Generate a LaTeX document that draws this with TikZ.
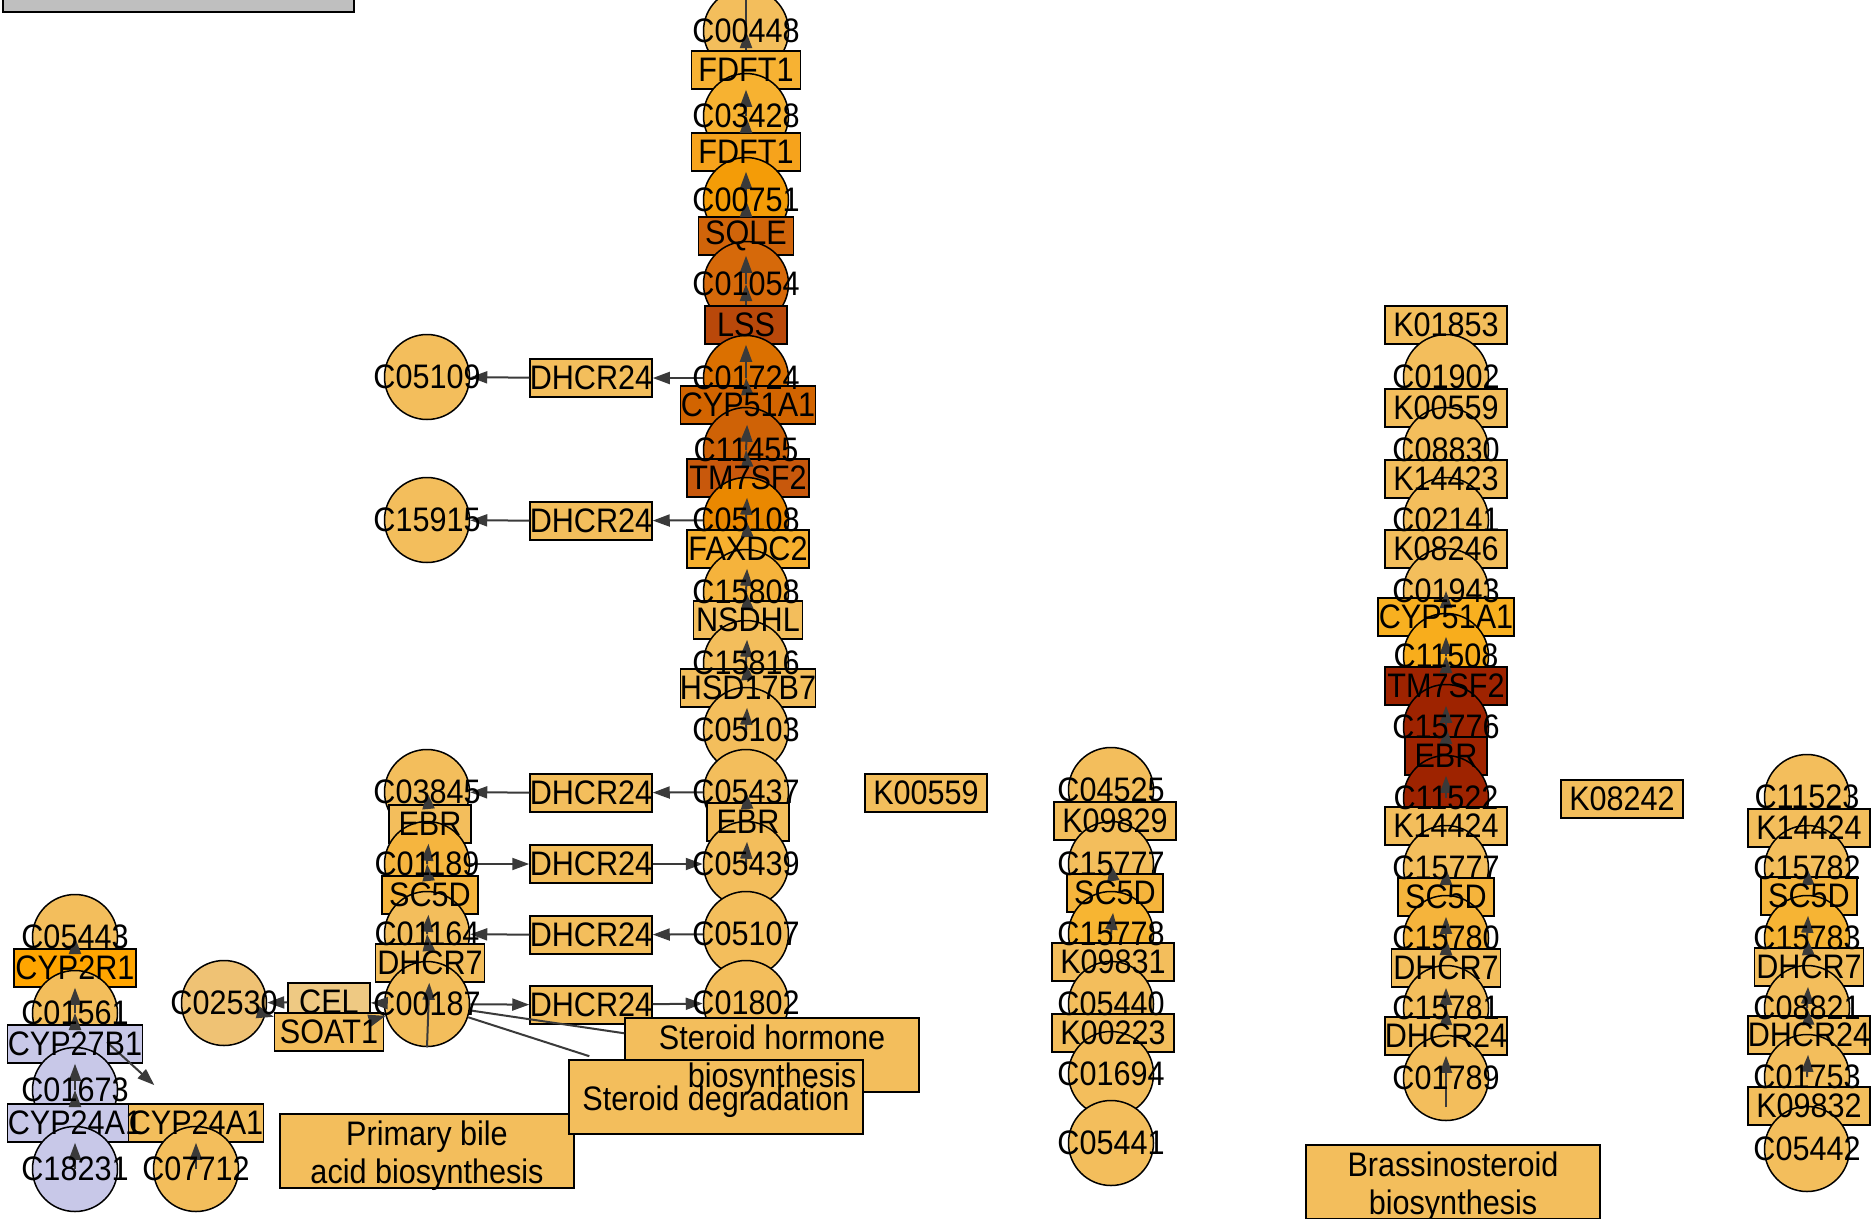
\documentclass[tikz,border=0pt]{standalone}
\usepackage{fontspec}
\newfontfamily\lblfont{Liberation Sans}[FakeStretch=0.9]
\usetikzlibrary{arrows.meta,calc}
\pgfdeclarelayer{edges}
\pgfdeclarelayer{lab}
\pgfsetlayers{main,edges,lab}
\definecolor{cLO}{HTML}{F3BE5C}
\definecolor{cFa}{HTML}{F7B233}
\definecolor{cC03428}{HTML}{F7B231}
\definecolor{cFb}{HTML}{F6A31C}
\definecolor{cC00751}{HTML}{F49C07}
\definecolor{cSQLE}{HTML}{D0640A}
\definecolor{cC01054}{HTML}{D6690A}
\definecolor{cLSS}{HTML}{B9480A}
\definecolor{cC01724}{HTML}{DB7000}
\definecolor{cCYP51}{HTML}{D26400}
\definecolor{cC11455}{HTML}{CF6206}
\definecolor{cTM7}{HTML}{C8580C}
\definecolor{cC05108}{HTML}{EA8800}
\definecolor{cFAX}{HTML}{F7B02E}
\definecolor{cC15808}{HTML}{F5B33C}
\definecolor{cC01189}{HTML}{F5B53F}
\definecolor{cSC5D}{HTML}{F5B43C}
\definecolor{cCYP2R1}{HTML}{FFA500}
\definecolor{cLav}{HTML}{C8C8E8}
\definecolor{cC02530}{HTML}{EFC274}
\definecolor{cCEL}{HTML}{EEC983}
\definecolor{cC15778}{HTML}{F7B532}
\definecolor{cCYP51r}{HTML}{F8B020}
\definecolor{cC11508}{HTML}{F8AD1C}
\definecolor{cDR}{HTML}{9E2300}
\definecolor{cC15780}{HTML}{F5B43C}
\definecolor{cC15783}{HTML}{F6B434}
\definecolor{cEdge}{HTML}{3A3A3A}
\definecolor{cLegend}{HTML}{BFBFBF}
\tikzset{
  cpd/.style={circle, draw=black, line width=1.5pt, minimum size=85pt, inner sep=0pt},
  gene/.style={rectangle, draw=black, line width=1.5pt, minimum height=38pt, inner sep=0pt},
  pw/.style={rectangle, draw=black, line width=1.5pt, minimum width=294pt, minimum height=74pt, fill=cLO},
  lbl/.style={font={\lblfont\fontsize{34}{38}\selectfont}, inner sep=0pt, text=black},
  arr/.style={draw=cEdge, line width=2pt, -{Triangle[length=17pt,width=12pt]}},
  ln/.style={draw=cEdge, line width=2pt},
}
\newcommand\Cpd[5]{\node[cpd,fill=#4] (#1) at (#2,#3) {};\begin{pgfonlayer}{lab}\node[lbl] (#1-t) at (#1) {#5};\end{pgfonlayer}}
\newcommand\Gene[6]{\node[gene,minimum width=#4pt,fill=#5] (#1) at (#2,#3) {};\begin{pgfonlayer}{lab}\node[lbl] (#1-t) at (#1) {#6};\end{pgfonlayer}}
\newcommand\Pw[4]{\node[pw] (#1) at (#2,#3) {};\begin{pgfonlayer}{lab}\node[lbl,align=center] (#1-t) at ([yshift=-5pt]#1.center) {#4};\end{pgfonlayer}}
\begin{document}
\begin{tikzpicture}[x=1pt,y=-1pt]
\fill[white] (0,0) rectangle (1871,1218);
\useasboundingbox (0,0) rectangle (1871,1218);
\node[draw=black, line width=1.6pt, fill=cLegend, minimum width=351pt, minimum height=60pt, inner sep=0pt, anchor=south west] (legend) at (2,12.5) {};
% main column
\Cpd{C00448}{746}{31}{cLO}{C00448}
\Gene{gFDFT1a}{746}{70}{109}{cFa}{FDFT1}
\Cpd{C03428}{746}{116}{cC03428}{C03428}
\Gene{gFDFT1b}{746}{152}{109}{cFb}{FDFT1}
\Cpd{C00751}{746}{200}{cC00751}{C00751}
\Gene{gSQLE}{746}{236}{95}{cSQLE}{SQLE}
\Cpd{C01054}{746}{284}{cC01054}{C01054}
\Gene{gLSS}{746}{325}{82}{cLSS}{LSS}
\Cpd{C01724}{746}{378}{cC01724}{C01724}
\Gene{gCYP51A1}{748}{405}{135}{cCYP51}{CYP51A1}
\Cpd{C11455}{746}{450}{cC11455}{C11455}
\Gene{gTM7SF2}{748}{478}{122}{cTM7}{TM7SF2}
\Cpd{C05108}{746}{520}{cC05108}{C05108}
\Gene{gFAXDC2}{748}{549}{122}{cFAX}{FAXDC2}
\Cpd{C15808}{746}{592}{cC15808}{C15808}
\Gene{gNSDHL}{748}{620}{109}{cLO}{NSDHL}
\Cpd{C15816}{746}{663}{cLO}{C15816}
\Gene{gHSD17B7}{748}{688}{135}{cLO}{HSD17B7}
\Cpd{C05103}{746}{730}{cLO}{C05103}
\Cpd{C05437}{746}{792}{cLO}{C05437}
\Gene{gEBRm}{748}{822}{82}{cLO}{EBR}
\Cpd{C05439}{746}{864}{cLO}{C05439}
\Cpd{C05107}{746}{934}{cLO}{C05107}
\Cpd{C01802}{746}{1003}{cLO}{C01802}
% left branch
\Cpd{C05109}{427}{377}{cLO}{C05109}
\Gene{gD24a}{591}{378}{122}{cLO}{DHCR24}
\Cpd{C15915}{427}{520}{cLO}{C15915}
\Gene{gD24b}{591}{521}{122}{cLO}{DHCR24}
\Cpd{C03845}{427}{792}{cLO}{C03845}
\Gene{gEBRl}{430}{824}{82}{cLO}{EBR}
\Cpd{C01189}{427}{864}{cC01189}{C01189}
\Gene{gSC5Dl}{430}{895}{96}{cSC5D}{SC5D}
\Cpd{C01164}{427}{934}{cLO}{C01164}
\Gene{gDHCR7l}{430}{963}{109}{cLO}{DHCR7}
\Cpd{C00187}{427}{1004}{cLO}{C00187}
\Gene{gD24c}{591}{793}{122}{cLO}{DHCR24}
\Gene{gD24d}{591}{864}{122}{cLO}{DHCR24}
\Gene{gD24e}{591}{935}{122}{cLO}{DHCR24}
\Gene{gD24f}{591}{1005}{122}{cLO}{DHCR24}
% vitamin D group
\Cpd{C05443}{75}{937}{cLO}{C05443}
\Gene{gCYP2R1}{75}{968}{122}{cCYP2R1}{CYP2R1}
\Cpd{C01561}{75}{1013}{cLO}{C01561}
\Gene{gCYP27B1}{75}{1044}{135}{cLav}{CYP27B1}
\Cpd{C01673}{75}{1090}{cLav}{C01673}
\Gene{gCYP24A1l}{75}{1123}{135}{cLav}{CYP24A1}
\Gene{gCYP24A1r}{196}{1123}{135}{cLO}{CYP24A1}
\Cpd{C18231}{75}{1169}{cLav}{C18231}
\Cpd{C07712}{196}{1169}{cLO}{C07712}
% cholesterol ester
\Cpd{C02530}{224}{1003}{cC02530}{C02530}
\Gene{gCEL}{329}{1002}{82}{cCEL}{CEL}
\Gene{gSOAT1}{329}{1032}{109}{cLO}{SOAT1}
% middle column
\Cpd{C04525}{1111}{790}{cLO}{C04525}
\Gene{gK09829}{1115}{821}{122}{cLO}{K09829}
\Cpd{C15777}{1111}{864}{cLO}{C15777}
\Gene{gSC5Dm}{1115}{893}{96}{cSC5D}{SC5D}
\Cpd{C15778}{1111}{934}{cC15778}{C15778}
\Gene{gK09831}{1113}{962}{122}{cLO}{K09831}
\Cpd{C05440}{1111}{1004}{cLO}{C05440}
\Gene{gK00223}{1113}{1033}{122}{cLO}{K00223}
\Cpd{C01694}{1111}{1074}{cLO}{C01694}
\Cpd{C05441}{1111}{1143}{cLO}{C05441}
\Gene{gK00559a}{926}{793}{122}{cLO}{K00559}
\Gene{gK08242}{1622}{799}{122}{cLO}{K08242}
% right column
\Gene{gK01853}{1446}{325}{122}{cLO}{K01853}
\Cpd{C01902}{1446}{377}{cLO}{C01902}
\Gene{gK00559b}{1446}{408}{122}{cLO}{K00559}
\Cpd{C08830}{1446}{450}{cLO}{C08830}
\Gene{gK14423}{1446}{479}{122}{cLO}{K14423}
\Cpd{C02141}{1446}{520}{cLO}{C02141}
\Gene{gK08246}{1446}{549}{122}{cLO}{K08246}
\Cpd{C01943}{1446}{591}{cLO}{C01943}
\Gene{gCYP51r}{1446}{617}{136}{cCYP51r}{CYP51A1}
\Cpd{C11508}{1446}{656}{cC11508}{C11508}
\Gene{gTM7r}{1446}{686}{122}{cDR}{TM7SF2}
\Cpd{C15776}{1446}{727}{cDR}{C15776}
\Gene{gEBRr}{1446}{756}{82}{cDR}{EBR}
\Cpd{C11522}{1446}{798}{cDR}{C11522}
\Gene{gK14424r}{1446}{826}{122}{cLO}{K14424}
\Cpd{C15777b}{1446}{868}{cLO}{C15777}
\Gene{gSC5Dr}{1446}{897}{96}{cSC5D}{SC5D}
\Cpd{C15780}{1446}{938}{cC15780}{C15780}
\Gene{gDHCR7r}{1446}{968}{109}{cLO}{DHCR7}
\Cpd{C15781}{1446}{1008}{cLO}{C15781}
\Gene{gD24r}{1446}{1036}{122}{cLO}{DHCR24}
\Cpd{C01789}{1446}{1078}{cLO}{C01789}
% far right column
\Cpd{C11523}{1807}{797}{cLO}{C11523}
\Gene{gK14424f}{1809}{828}{122}{cLO}{K14424}
\Cpd{C15782}{1807}{868}{cLO}{C15782}
\Gene{gSC5Df}{1809}{896}{96}{cSC5D}{SC5D}
\Cpd{C15783}{1807}{938}{cC15783}{C15783}
\Gene{gDHCR7f}{1809}{967}{109}{cLO}{DHCR7}
\Cpd{C08821}{1807}{1008}{cLO}{C08821}
\Gene{gD24f2}{1809}{1035}{122}{cLO}{DHCR24}
\Cpd{C01753}{1807}{1077}{cLO}{C01753}
\Gene{gK09832}{1809}{1106}{122}{cLO}{K09832}
\Cpd{C05442}{1807}{1149}{cLO}{C05442}
% pathway boxes
\Pw{pPB}{427}{1151}{Primary bile\\acid biosynthesis}
\Pw{pSH}{772}{1055}{Steroid hormone\\biosynthesis}
\Pw{pSD}{716}{1097}{Steroid degradation}
\Pw{pBR}{1453}{1182}{Brassinosteroid\\biosynthesis}
\coordinate (topout) at (746,-30);
\begin{pgfonlayer}{edges}
% main column
\draw[arr] (C00448.center) -- (topout);
\draw[arr] (gFDFT1a) -- (C00448.center);
\draw[arr] (C03428.center) -- (gFDFT1a);
\draw[arr] (gFDFT1b) -- (C03428.center);
\draw[arr] (C00751.center) -- (gFDFT1b);
\draw[arr] (gSQLE) -- (C00751.center);
\draw[arr] (C01054.center) -- (gSQLE);
\draw[arr] (gLSS) -- (C01054.center);
\draw[arr] (C01724.center) -- (gLSS);
\draw[arr] (gCYP51A1) -- (C01724.center);
\draw[arr] (C11455.center) -- (gCYP51A1);
\draw[arr] (gTM7SF2) -- (C11455.center);
\draw[arr] (C05108.center) -- (gTM7SF2);
\draw[arr] (gFAXDC2) -- (C05108.center);
\draw[arr] (C15808.center) -- (gFAXDC2);
\draw[arr] (gNSDHL) -- (C15808.center);
\draw[arr] (C15816.center) -- (gNSDHL);
\draw[arr] (gHSD17B7) -- (C15816.center);
\draw[arr] (C05103.center) -- (gHSD17B7);
\draw[arr] (C05439.center) -- (gEBRm);
\draw[arr] (gEBRm) -- (C05437.center);
% horizontal DHCR24 branches
\draw[arr] (C01724) -- (gD24a);
\draw[arr] (gD24a) -- (C05109);
\draw[arr] (C05108) -- (gD24b);
\draw[arr] (gD24b) -- (C15915);
\draw[arr] (C05437) -- (gD24c);
\draw[arr] (gD24c) -- (C03845);
\draw[arr] (C01189) -- (gD24d);
\draw[arr] (gD24d) -- (C05439);
\draw[arr] (C05107) -- (gD24e);
\draw[arr] (gD24e) -- (C01164);
\draw[arr] (C00187) -- (gD24f);
\draw[arr] (gD24f) -- (C01802);
% left vertical chain
\draw[arr] (C00187.south) -- (gDHCR7l);
\draw[arr] (gDHCR7l) -- (C01164.center);
\draw[arr] (C01164.center) -- (gSC5Dl);
\draw[arr] (gSC5Dl) -- (C01189.center);
\draw[arr] (C01189.center) -- (gEBRl);
\draw[arr] (gEBRl) -- (C03845.center);
% vitamin D
\draw[arr] (C18231.center) -- (gCYP24A1l);
\draw[arr] (gCYP24A1l) -- (C01673.center);
\draw[arr] (C01673.center) -- (gCYP27B1);
\draw[arr] (gCYP27B1) -- (C01561.center);
\draw[arr] (C01561.center) -- (gCYP2R1);
\draw[arr] (gCYP2R1) -- (C05443.center);
\draw[arr] (C07712.center) -- (gCYP24A1r);
\draw[arr, shorten >=27pt] (C01561) -- (gCYP24A1r);
% cholesterol esters
\draw[arr] (C00187) -- (gCEL);
\draw[arr] (gCEL) -- (C02530);
\draw[arr] (C02530) -- (gSOAT1);
\draw[arr] (gSOAT1) -- (C00187);
% pathway links
\draw[ln] (C00187) -- (pSH);
\draw[ln, shorten >=10pt] (C00187) -- (pSD);
% middle
\draw[arr] (C15778.center) -- (gSC5Dm);
\draw[arr] (gSC5Dm) -- (C15777.center);
% right
\draw[arr] ([yshift=-29pt]C01789.center) -- (gD24r);
\draw[arr] (gD24r) -- (C15781.center);
\draw[arr] (C15781.center) -- (gDHCR7r);
\draw[arr] (gDHCR7r) -- (C15780.center);
\draw[arr] (C15780.center) -- (gSC5Dr);
\draw[arr] (gSC5Dr) -- (C15777b.center);
\draw[arr] (C11522.center) -- (gEBRr);
\draw[arr] (gEBRr) -- (C15776.center);
\draw[arr] (C15776.center) -- (gTM7r);
\draw[arr] (gTM7r) -- (C11508.center);
\draw[arr] (C11508.center) -- (gCYP51r);
\draw[arr] (gCYP51r) -- (C01943.center);
% far right
\draw[arr] (C01753.center) -- (gD24f2);
\draw[arr] (gD24f2) -- (C08821.center);
\draw[arr] (C08821.center) -- (gDHCR7f);
\draw[arr] (gDHCR7f) -- (C15783.center);
\draw[arr] (C15783.center) -- (gSC5Df);
\draw[arr] (gSC5Df) -- (C15782.center);
\end{pgfonlayer}
\end{tikzpicture}
\end{document}
